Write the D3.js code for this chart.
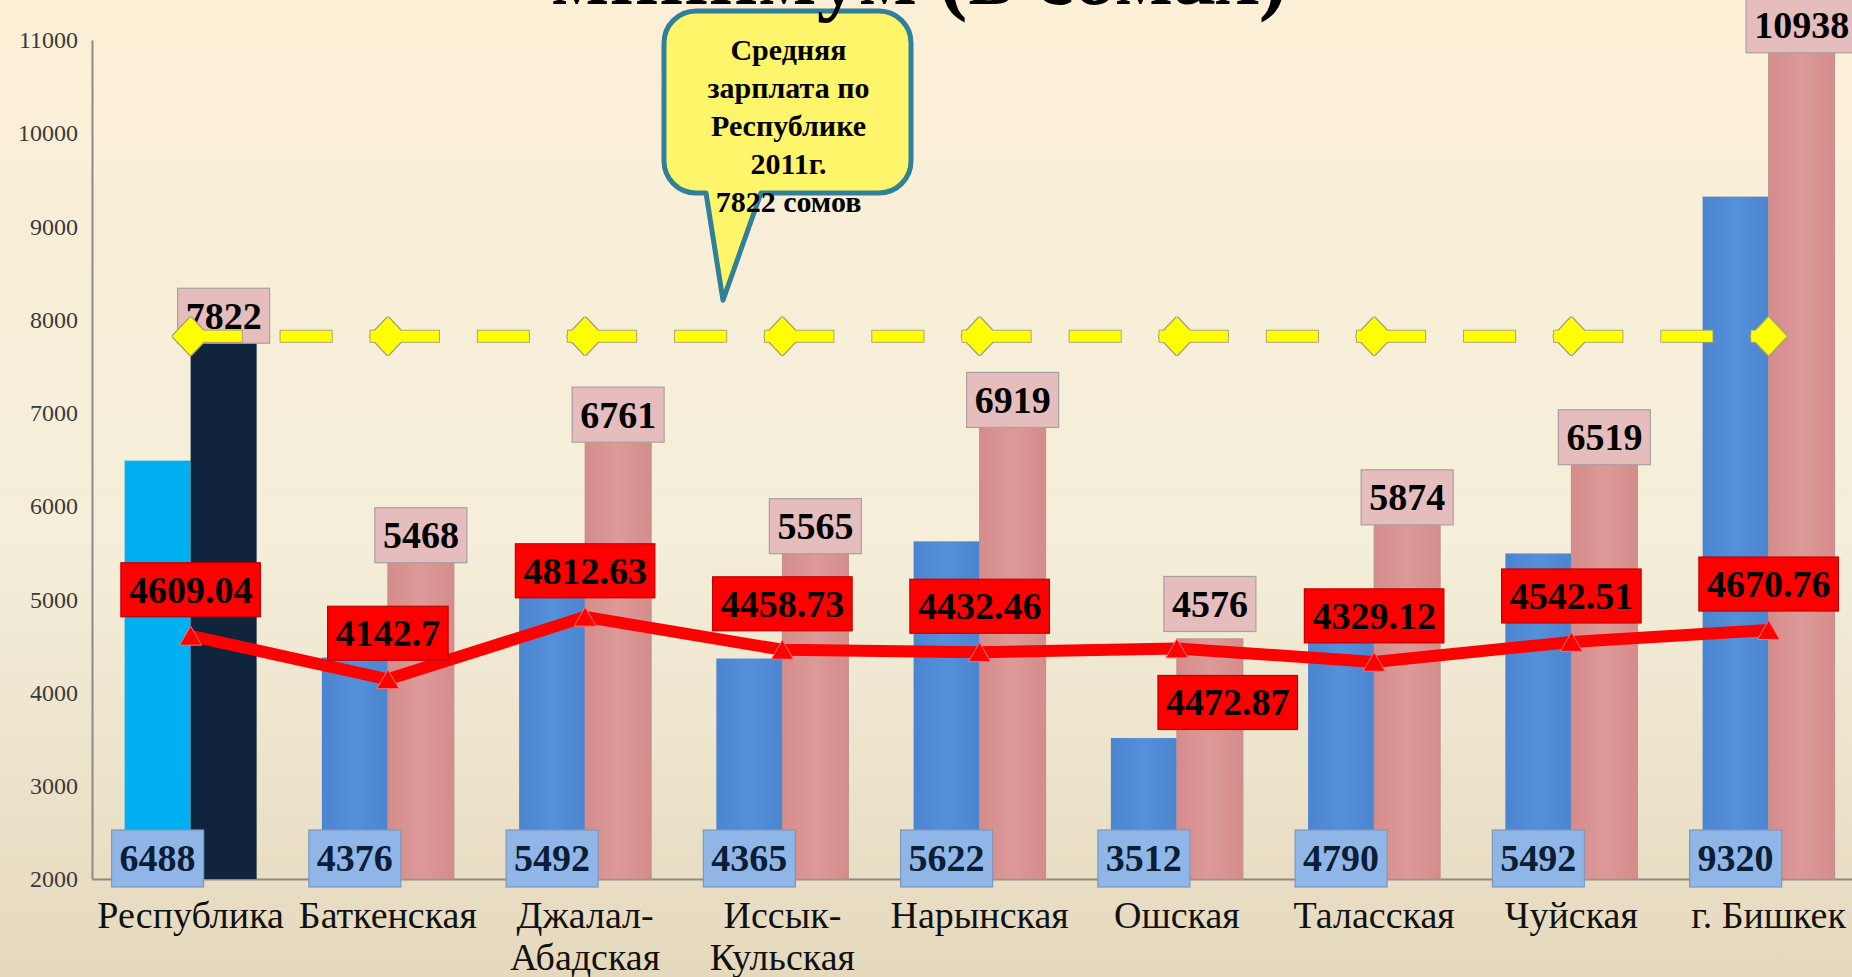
<!DOCTYPE html>
<html>
<head>
<meta charset="utf-8">
<script src="https://cdn.jsdelivr.net/npm/d3@7"></script>
<style>
  html, body { margin: 0; padding: 0; overflow: hidden; }
  svg { display: block; }
</style>
</head>
<body>
<svg id="chart"></svg>
<script>
// ---- data -------------------------------------------------------------
const categories = ["Республика", "Баткенская", "Джалал-Абадская", "Иссык-Кульская",
    "Нарынская", "Ошская", "Таласская", "Чуйская", "г. Бишкек"];
const wagePrev = [6488, 4376, 5492, 4365, 5622, 3512, 4790, 5492, 9320];     // blue bars
const wage2011 = [7822, 5468, 6761, 5565, 6919, 4576, 5874, 6519, 10938];    // pink bars
const minimum = [4609.04, 4142.7, 4812.63, 4458.73, 4432.46, 4472.87, 4329.12, 4542.51, 4670.76];
const republicAvg = 7822;
const yTicks = [2000, 3000, 4000, 5000, 6000, 7000, 8000, 9000, 10000, 11000];
const redLabelBelow = ["Ошская"];   // label moved under the line on the slide
const titleText = "минимум (в сомах)";
const calloutLines = ["Средняя", "зарплата по", "Республике", "2011г.", "7822 сомов"];

const W = 1852, H = 977;
const marginLeft = 92, step = 197.25;
const FONT = "'Liberation Serif', 'Times New Roman', serif";

const svg = d3.select("#chart").attr("width", W).attr("height", H);
const defs = svg.append("defs");

// background
const bg = defs.append("linearGradient").attr("id", "bg")
    .attr("x1", 0).attr("y1", 0).attr("x2", 0).attr("y2", 1);
bg.selectAll("stop")
    .data([[0, "#fcefd6"], [0.55, "#f4eeda"], [1, "#e5d9bd"]])
    .join("stop")
    .attr("offset", d => d[0])
    .attr("stop-color", d => d[1]);
svg.append("rect").attr("width", W).attr("height", H).attr("fill", "url(#bg)");

function barGrad(id, edge, mid) {
    const g = defs.append("linearGradient").attr("id", id)
        .attr("x1", 0).attr("y1", 0).attr("x2", 1).attr("y2", 0);
    g.append("stop").attr("offset", 0).attr("stop-color", edge);
    g.append("stop").attr("offset", 0.5).attr("stop-color", mid);
    g.append("stop").attr("offset", 1).attr("stop-color", edge);
}
barGrad("gBlue", "#4b84cf", "#5590da");
barGrad("gPink", "#d58c8b", "#dc9a98");

// thin olive outline for the yellow series
const f = defs.append("filter").attr("id", "outline")
    .attr("x", -0.1).attr("y", -0.5).attr("width", 1.2).attr("height", 2);
f.append("feMorphology").attr("in", "SourceAlpha").attr("operator", "dilate")
    .attr("radius", 1.3).attr("result", "fat");
f.append("feFlood").attr("flood-color", "#a7a06a").attr("result", "col");
f.append("feComposite").attr("in", "col").attr("in2", "fat").attr("operator", "in").attr("result", "edge");
const fm = f.append("feMerge");
fm.append("feMergeNode").attr("in", "edge");
fm.append("feMergeNode").attr("in", "SourceGraphic");

// ---- scales -----------------------------------------------------------
const x = d3.scaleBand()
    .domain(categories)
    .range([marginLeft, marginLeft + categories.length * step]);

const xs = d3.scaleBand()
    .domain([0, 1])
    .range([0, x.bandwidth()])
    .paddingOuter(0.494);

const y = d3.scaleLinear()
    .domain([2000, 11000])
    .range([879, 40]);

const cx = d => x(d) + x.bandwidth() / 2;

// ---- callout + title --------------------------------------------------
const cb = {x0: 664, y0: 11, x1: 911, y1: 193, r: 32, t0: 706, t1: 761};
const tipX = 723, tipY = y(republicAvg) - 36;
const p = d3.path();
p.moveTo(cb.x0 + cb.r, cb.y0);
p.lineTo(cb.x1 - cb.r, cb.y0);
p.arcTo(cb.x1, cb.y0, cb.x1, cb.y0 + cb.r, cb.r);
p.lineTo(cb.x1, cb.y1 - cb.r);
p.arcTo(cb.x1, cb.y1, cb.x1 - cb.r, cb.y1, cb.r);
p.lineTo(cb.t1, cb.y1);
p.lineTo(tipX, tipY);
p.lineTo(cb.t0, cb.y1);
p.lineTo(cb.x0 + cb.r, cb.y1);
p.arcTo(cb.x0, cb.y1, cb.x0, cb.y1 - cb.r, cb.r);
p.lineTo(cb.x0, cb.y0 + cb.r);
p.arcTo(cb.x0, cb.y0, cb.x0 + cb.r, cb.y0, cb.r);
p.closePath();

svg.append("path")
    .attr("d", p.toString())
    .attr("fill", "#fff56b")
    .attr("stroke", "#31809a")
    .attr("stroke-width", 5)
    .attr("stroke-linejoin", "round");

svg.append("g")
    .selectAll("text")
    .data(calloutLines)
    .join("text")
    .attr("x", (cb.x0 + cb.x1) / 2 + 1)
    .attr("y", (d, i) => 60 + i * 38)
    .attr("text-anchor", "middle")
    .attr("font-family", FONT)
    .attr("font-weight", "bold")
    .attr("font-size", 30)
    .attr("fill", "#000")
    .text(d => d);

// slide title, only its lower edge is inside the frame
svg.append("text")
    .attr("x", 551)
    .attr("y", 4)
    .attr("font-family", FONT)
    .attr("font-weight", "bold")
    .attr("font-size", 86)
    .attr("fill", "#000")
    .text(titleText);

// ---- axes -------------------------------------------------------------
const yAxis = svg.append("g")
    .attr("transform", `translate(${marginLeft},0)`)
    .call(d3.axisLeft(y).tickValues(yTicks).tickFormat(d3.format("d"))
        .tickSize(0).tickSizeOuter(0).tickPadding(14))
    .attr("font-family", FONT)
    .attr("font-size", 24);
yAxis.select(".domain").attr("stroke", "#8a8a8a").attr("stroke-width", 2);
yAxis.selectAll(".tick text").attr("fill", "#3a3a3a");

const xAxis = svg.append("g")
    .attr("transform", `translate(0,${y(2000)})`)
    .call(d3.axisBottom(x).tickSize(0).tickSizeOuter(0))
    .attr("font-family", FONT)
    .attr("font-size", 38);
xAxis.select(".domain").attr("stroke", "#8a8a8a").attr("stroke-width", 2);
xAxis.selectAll(".tick text")
    .attr("y", 49)
    .attr("dy", 0)
    .attr("fill", "#111")
    .each(function (d) {
        const t = d3.select(this).text(null);
        d.replace("-", "-\n").split("\n").forEach((s, i) => {
            t.append("tspan").attr("x", 0).attr("dy", i ? 42 : 0).text(s);
        });
    });

// ---- bars -------------------------------------------------------------
const groups = svg.append("g")
    .selectAll("g")
    .data(categories)
    .join("g")
    .attr("transform", d => `translate(${x(d)},0)`);

groups.append("rect")
    .attr("x", xs(0))
    .attr("y", (d, i) => y(wagePrev[i]))
    .attr("width", xs.bandwidth())
    .attr("height", (d, i) => y(2000) - y(wagePrev[i]))
    .attr("fill", (d, i) => i === 0 ? "#00b0f0" : "url(#gBlue)");

groups.append("rect")
    .attr("x", xs(1))
    .attr("y", (d, i) => y(wage2011[i]))
    .attr("width", xs.bandwidth())
    .attr("height", (d, i) => y(2000) - y(wage2011[i]))
    .attr("fill", (d, i) => i === 0 ? "#10243e" : "url(#gPink)")
    .attr("stroke", (d, i) => i === 0 ? "none" : "#b89290")
    .attr("stroke-width", 1);

// ---- label helper -----------------------------------------------------
function labelBox(parent, lx, ly, text, fill, stroke, color, h) {
    const g = parent.append("g").attr("transform", `translate(${lx},${ly})`);
    const rect = g.append("rect").attr("fill", fill).attr("stroke", stroke).attr("stroke-width", 1.2);
    const t = g.append("text")
        .attr("text-anchor", "middle")
        .attr("dy", "0.34em")
        .attr("font-family", FONT)
        .attr("font-weight", "bold")
        .attr("font-size", 38)
        .attr("fill", color)
        .text(text);
    const w = t.node().getComputedTextLength() + 16;
    rect.attr("x", -w / 2).attr("y", -h / 2).attr("width", w).attr("height", h);
}

const labels = svg.append("g");

// pink value labels on top of the 2011 bars
categories.forEach((c, i) => {
    const lx = x(c) + xs(1) + xs.bandwidth() / 2;
    let ly = y(wage2011[i]) - 20.5;
    // where the line label sits below, the bar label is pushed above the line
    if (redLabelBelow.includes(c)) ly = y(minimum[i]) - 44.5;
    labelBox(labels, lx, ly, String(wage2011[i]), "#e6bdbd", "#a9a0a0", "#000", 55);
});

// blue value labels at the base of the bars
categories.forEach((c, i) => {
    const lx = x(c) + xs(0) + xs.bandwidth() / 2;
    labelBox(labels, lx, y(2000) - 20.5, String(wagePrev[i]), "#8fb6e6", "#7f98ba", "#0c1d36", 57);
});

// ---- red line (minimum) ----------------------------------------------
const redG = svg.append("g");
redG.append("path")
    .datum(minimum)
    .attr("d", d3.line().x((d, i) => cx(categories[i])).y(d => y(d)))
    .attr("fill", "none")
    .attr("stroke", "#ff0000")
    .attr("stroke-width", 12);

redG.selectAll(".tri")
    .data(minimum)
    .join("path")
    .attr("class", "tri")
    .attr("d", d3.symbol(d3.symbolTriangle, 210))
    .attr("transform", (d, i) => `translate(${cx(categories[i])},${y(d) + 3})`)
    .attr("fill", "#ff0000")
    .attr("stroke", "#ff7070")
    .attr("stroke-width", 1);

categories.forEach((c, i) => {
    const below = redLabelBelow.includes(c);
    const lx = cx(c) + (below ? xs.bandwidth() * 0.77 : 0);
    const ly = y(minimum[i]) + (below ? 54 : -46);
    labelBox(redG, lx, ly, String(minimum[i]), "#ff0000", "#c00000", "#000", 54);
});

// ---- yellow dashed line (republic average) ----------------------------
const yel = svg.append("g").attr("filter", "url(#outline)");
yel.append("path")
    .datum(categories)
    .attr("d", d3.line().x(d => cx(d)).y(() => y(republicAvg)))
    .attr("fill", "none")
    .attr("stroke", "#ffff00")
    .attr("stroke-width", 11)
    .attr("stroke-dasharray", `${step - 129},39,51,39`)
    .attr("stroke-dashoffset", step - 180);

yel.selectAll(".dia")
    .data(categories)
    .join("path")
    .attr("class", "dia")
    .attr("d", "M0,-19L18,0L0,19L-18,0Z")
    .attr("transform", d => `translate(${cx(d)},${y(republicAvg)})`)
    .attr("fill", "#ffff00");
</script>
</body>
</html>
